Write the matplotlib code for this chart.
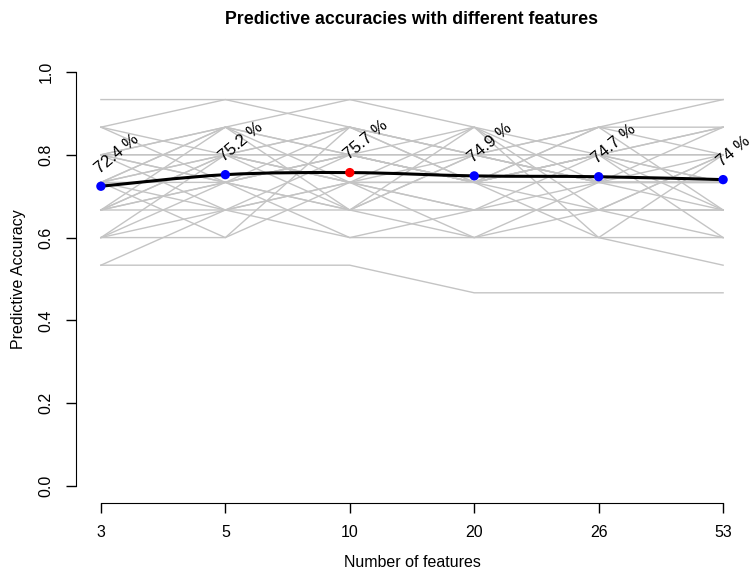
import numpy as np
import matplotlib.pyplot as plt
from matplotlib.path import Path
from matplotlib.patches import PathPatch

plt.rcParams['font.family'] = ['Liberation Sans', 'DejaVu Sans']

n_features = ["3", "5", "10", "20", "26", "53"]
mean_acc = [0.724, 0.752, 0.757, 0.749, 0.747, 0.740]
acc_labels = ["72.4 %", "75.2 %", "75.7 %", "74.9 %", "74.7 %", "74 %"]

# correct predictions out of 15 test samples, one row per repetition
run_correct = [
    [14, 14, 13, 12, 13, 14],
    [13, 14, 14, 14, 14, 14],
    [12, 13, 14, 13, 12, 13],
    [12, 12, 13, 12, 12, 12],
    [11, 13, 12, 11, 12, 13],
    [11, 11, 12, 13, 11, 11],
    [11, 12, 11, 11, 12, 12],
    [10, 11, 12, 12, 11, 11],
    [10, 12, 11, 10, 10, 10],
    [10, 10, 11, 11, 11, 10],
    [9, 11, 10, 12, 11, 11],
    [9, 9, 11, 10, 10, 9],
    [8, 8, 8, 7, 7, 7],
    [12, 11, 12, 11, 13, 12],
    [13, 12, 11, 12, 11, 12],
    [11, 10, 10, 9, 9, 9],
    [10, 12, 12, 11, 9, 8],
    [12, 13, 12, 12, 13, 13],
    [9, 10, 9, 9, 10, 10],
    [11, 12, 13, 12, 11, 11],
    [8, 10, 12, 11, 12, 10],
    [12, 10, 11, 13, 10, 12],
    [13, 11, 10, 10, 12, 11],
    [10, 13, 11, 9, 11, 13],
    [11, 9, 13, 11, 10, 12],
    [9, 12, 10, 12, 12, 9],
    [12, 11, 9, 10, 11, 11],
    [10, 11, 13, 11, 13, 10],
    [11, 13, 10, 13, 9, 12],
    [12, 12, 12, 11, 12, 11],
]
n_test = 15

x = np.arange(1, len(n_features) + 1)

fig = plt.figure(figsize=(7.5, 5.74), dpi=100)
ax = fig.add_axes([76 / 750, 1 - 502.6 / 574, (748 - 76) / 750, (502.6 - 55.4) / 574])

for run in run_correct:
    ax.plot(x, np.array(run) / n_test, color="#C4C4C4", lw=1.0, zorder=1)

# smooth curve through the mean accuracies (Catmull-Rom -> cubic Bezier)
y = np.array(mean_acc)
verts = [(x[0], y[0])]
codes = [Path.MOVETO]
for i in range(len(x) - 1):
    p0 = (x[max(i - 1, 0)], y[max(i - 1, 0)])
    p1 = (x[i], y[i])
    p2 = (x[i + 1], y[i + 1])
    p3 = (x[min(i + 2, len(x) - 1)], y[min(i + 2, len(x) - 1)])
    c1 = (p1[0] + (p2[0] - p0[0]) / 6, p1[1] + (p2[1] - p0[1]) / 6)
    c2 = (p2[0] - (p3[0] - p1[0]) / 6, p2[1] - (p3[1] - p1[1]) / 6)
    verts += [c1, c2, p2]
    codes += [Path.CURVE4] * 3
ax.add_patch(PathPatch(Path(verts, codes), fill=False, lw=2.2, ec="black", zorder=3))

best = int(np.argmax(mean_acc))
colors = ["red" if i == best else "blue" for i in range(len(x))]
ax.scatter(x, mean_acc, s=45, c=colors, zorder=4, linewidths=0)

for xi, yi, lab in zip(x, mean_acc, acc_labels):
    ax.text(xi - 0.01, yi + 0.03, lab, rotation=40, rotation_mode="anchor",
            ha="left", va="baseline", fontsize=12, zorder=5)

ax.set_xlim(0.8, 6.2)
ax.set_ylim(-0.04, 1.04)
ax.set_xticks(x)
ax.set_xticklabels(n_features)
ax.set_yticks([0.0, 0.2, 0.4, 0.6, 0.8, 1.0])
ax.set_yticklabels(["0.0", "0.2", "0.4", "0.6", "0.8", "1.0"], rotation=90, va="center")
for s in ["top", "right"]:
    ax.spines[s].set_visible(False)
ax.spines["left"].set_bounds(0, 1)
ax.spines["bottom"].set_bounds(1, 6)
ax.tick_params(direction="out", length=7, width=1, labelsize=11.5, pad=9)
ax.patch.set_visible(False)

ax.set_xlabel("Number of features", fontsize=11.5, labelpad=11)
ax.set_ylabel("Predictive Accuracy", fontsize=11.5, labelpad=9)
fig.text(0.548, 1 - 20 / 574, "Predictive accuracies with different features",
         ha="center", va="center", fontsize=12.8, fontweight="bold")

fig.savefig("out.png", dpi=100)
